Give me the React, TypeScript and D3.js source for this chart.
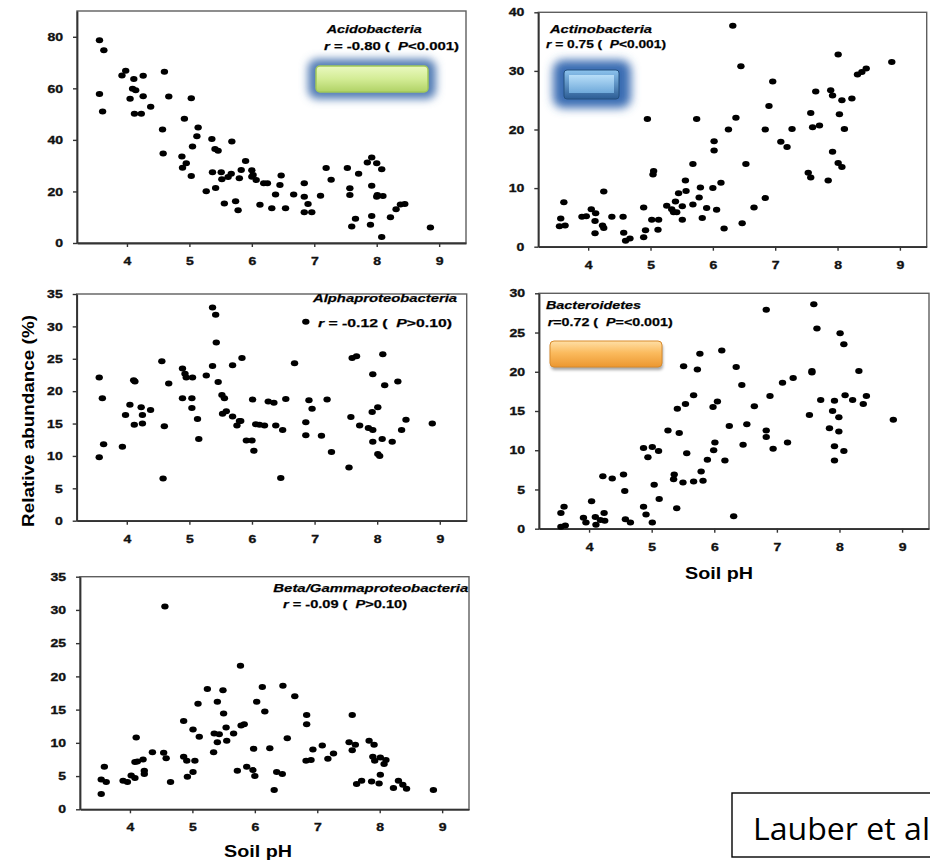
import React, { useEffect, useRef } from 'react';
import * as d3 from 'd3';

// Acidobacteria
const acidoPH = [3.56,3.63,3.56,3.61,3.92,3.98,4.11,4.26,4.09,4.14,4.05,4.26,4.12,4.23,4.38,4.60,4.67,4.57,4.58,5.03,4.92,5.14,5.12,5.05,4.88,4.95,4.89,5.03,5.27,5.36,5.41,5.46,5.37,5.51,5.52,5.42,5.56,5.68,5.67,5.62,5.80,5.83,5.90,5.74,5.78,6.00,6.02,6.07,6.00,6.19,6.25,6.13,6.32,6.47,6.45,6.38,6.54,6.67,6.84,6.84,6.90,6.84,6.96,7.10,7.19,7.27,7.53,7.57,7.57,7.71,7.66,7.60,7.85,7.92,8.00,8.08,7.92,8.01,8.00,8.10,7.92,7.90,8.08,8.22,8.31,8.38,8.45,8.86];
const acidoAbund = [78.7,74.8,57.8,51,65,66.8,63.6,64.9,59.8,59.3,56,56.9,50.1,50.1,52.9,66.4,56.8,44,34.7,56.2,48.2,44.8,41.4,37.4,33.6,30.9,29.2,26,20.1,40.3,36.5,35.8,27.4,27.4,24.7,21.3,15.3,39.4,26.9,25.6,25.1,28.3,31.8,16.2,12.7,28.2,26.4,24.4,25.7,23.2,23.2,14.8,13.5,26.2,22.5,18.8,13.5,18.8,23.2,17.9,15.1,11.9,11.9,18.3,29.1,24.5,29.1,21.2,18.6,26.9,9.4,6.4,31.2,33.2,30.9,28.6,22.2,18.6,17.9,18.2,10.5,7.1,2.3,10,13.1,14.9,15.1,6];

// Actinobacteria
const actinoPH = [3.61,3.56,3.54,3.63,3.90,3.97,4.05,4.12,4.11,4.11,4.25,4.23,4.25,4.38,4.56,4.57,4.60,4.67,4.89,4.92,4.89,4.95,5.04,5.05,5.02,5.13,5.12,5.26,5.34,5.40,5.42,5.37,5.45,5.51,5.51,5.56,5.57,5.68,5.68,5.74,5.78,5.80,5.83,5.90,6.02,6.02,6.00,6.06,6.13,6.18,6.25,6.32,6.37,6.45,6.53,6.47,6.66,6.84,6.84,6.90,6.96,7.09,7.19,7.27,7.57,7.53,7.57,7.60,7.71,7.65,7.85,7.89,7.92,7.92,8.01,8.03,8.01,8.07,8.07,8.11,8.23,8.32,8.39,8.46,8.87];
const actinoAbund = [7.6,4.8,3.5,3.6,5.1,5.2,6.4,5.7,4.4,2.3,9.4,3.6,3.2,5.1,5.1,2.4,1.0,1.4,1.6,2.8,6.7,21.8,12.3,12.9,4.6,4.6,2.9,7.0,6.4,7.7,5.9,5.9,9.1,4.6,6.9,11.3,9.5,14.1,7.2,21.8,8.4,10.1,4.9,6.6,16.4,18.0,10.0,6.3,10.9,3.1,20.0,37.7,22.0,30.8,14.1,4.0,6.7,20.0,8.3,24.0,28.2,17.9,17.0,20.1,22.8,12.6,11.8,20.4,20.7,26.5,11.3,26.7,25.8,16.2,32.8,22.6,14.3,13.6,25.0,20.1,25.3,29.4,29.8,30.4,31.5];

// Alphaproteobacteria
const alphaPH = [3.56,3.61,3.56,3.63,3.93,3.98,4.05,4.11,4.13,4.12,4.23,4.25,4.25,4.38,4.56,4.60,4.58,4.67,4.89,4.93,4.95,5.05,4.89,5.04,5.04,5.13,5.15,5.27,5.37,5.42,5.43,5.37,5.46,5.52,5.56,5.53,5.59,5.69,5.69,5.76,5.80,5.82,5.84,5.91,6.00,6.03,6.01,6.06,6.12,6.20,6.26,6.35,6.38,6.49,6.46,6.54,6.68,6.86,6.86,6.86,6.91,6.96,7.11,7.20,7.27,7.55,7.58,7.60,7.67,7.72,7.86,7.93,7.92,7.93,8.01,7.93,8.01,8.04,8.08,8.09,8.12,8.24,8.33,8.39,8.46,8.88];
const alphaAbund = [22.1,18.9,9.8,11.8,11.4,16.3,17.9,21.7,21.5,14.8,17.5,16.3,15.0,17.1,24.6,14.6,6.5,21.2,23.5,22.7,22.1,22.1,18.9,18.9,17.4,15.7,12.6,22.4,32.9,31.8,27.5,23.9,21.4,19.4,18.9,16.5,16.9,24.0,16.1,14.7,15.4,15.4,25.1,12.4,12.4,10.8,18.7,14.9,14.8,14.7,18.4,18.2,14.7,14.0,6.6,18.8,24.3,30.7,15.2,13.2,18.6,17.3,13.1,18.7,10.6,8.2,16.0,25.1,25.4,14.7,14.3,14.0,16.8,22.6,17.5,12.2,10.3,10.0,12.6,25.7,20.9,12.2,21.5,14.0,15.6,15.0];

// Bacteroidetes
const bacteroPH = [3.55,3.62,3.55,3.60,3.91,4.04,3.95,4.10,4.11,4.18,4.24,4.25,4.22,4.37,4.55,4.57,4.58,4.66,4.87,4.94,5.01,5.11,4.87,4.91,5.01,5.04,5.12,5.26,5.41,5.44,5.36,5.35,5.50,5.40,5.51,5.54,5.56,5.67,5.67,5.73,5.77,5.79,5.82,5.89,5.98,6.05,6.01,5.99,6.12,6.17,6.24,6.31,6.35,6.44,6.46,6.52,6.64,6.83,6.83,6.83,6.89,6.94,7.09,7.17,7.26,7.52,7.56,7.56,7.59,7.64,7.70,7.84,7.89,7.92,7.92,7.92,7.99,7.99,8.01,8.07,8.07,8.09,8.21,8.31,8.38,8.43,8.86];
const bacteroAbund = [0.25,0.4,2.0,2.8,1.4,3.5,0.8,1.5,0.5,1.1,2.0,1.0,6.7,6.4,6.9,4.8,1.2,0.8,10.3,9.1,10.4,9.9,2.8,1.8,0.8,5.6,3.8,12.5,15.3,12.2,6.9,6.3,5.9,2.6,20.7,15.9,9.6,17.0,6.0,20.3,22.3,7.3,6.1,8.8,15.5,16.2,11.0,10.0,22.7,8.7,13.1,1.6,20.6,18.3,10.7,13.3,15.6,27.9,12.5,11.7,16.9,10.2,18.6,11.0,19.2,14.5,20.1,19.9,28.6,25.5,16.4,12.8,15.0,16.3,10.5,8.7,14.2,12.4,24.9,23.5,9.9,17.0,16.4,20.1,15.9,16.9,13.9];

// Beta/Gammaproteobacteria
const betaPH = [4.56,3.54,3.54,3.62,3.59,3.89,3.96,4.02,4.08,4.08,4.12,4.10,4.21,4.23,4.23,4.36,4.54,4.58,4.65,4.86,4.86,4.91,5.01,5.04,4.92,5.01,5.09,5.11,5.24,5.34,5.35,5.40,5.40,5.43,5.49,5.50,5.54,5.55,5.66,5.72,5.78,5.83,5.77,5.87,5.97,6.00,5.98,6.03,6.12,6.16,6.24,6.31,6.35,6.44,6.45,6.52,6.64,6.83,6.83,6.82,6.90,6.93,7.08,7.17,7.26,7.51,7.56,7.56,7.61,7.63,7.71,7.83,7.91,7.89,7.92,7.87,7.99,8.01,8.01,8.10,8.07,8.22,8.30,8.37,8.43,8.86];
const betaAbund = [30.5,2.3,4.5,4.1,6.4,4.3,4.1,5.1,4.7,7.1,7.2,10.8,7.5,5.8,5.3,8.6,8.5,7.7,4.1,13.3,7.9,7.3,12.0,7.3,4.9,5.6,15.9,10.9,18.1,8.6,11.4,16.2,10.1,11.3,17.9,14.4,12.3,10.3,11.4,5.8,12.6,12.8,21.6,6.4,5.9,5.0,9.1,16.2,18.4,14.7,9.2,2.9,5.6,5.3,18.6,10.7,17.0,14.2,12.8,7.3,7.4,9.0,9.6,7.6,8.4,10.1,14.2,8.9,9.7,3.8,4.3,10.3,9.7,7.9,7.3,4.2,3.9,5.2,7.8,7.4,6.8,3.2,4.3,3.7,3.1,2.9];

const xTicks = [4, 5, 6, 7, 8, 9];
const acidoTicks = [0, 20, 40, 60, 80];
const actinoTicks = [0, 10, 20, 30, 40];
const fiveTicks35 = [0, 5, 10, 15, 20, 25, 30, 35];
const fiveTicks30 = [0, 5, 10, 15, 20, 25, 30];

const BOLD = 'Liberation Sans, Arial, sans-serif';

const panels = [
  { ph: acidoPH, v: acidoAbund, yMax: 90, ticks: acidoTicks, l: 77, r: 466, t: 11, b: 243,
    title: 'Acidobacteria', stat: ['-0.80', '<0.001'], eq: ' = ', tx: 326.7, ty: 33.3, tl: 95, sx: 324, sy: 49.5, sl: 135 },
  { ph: actinoPH, v: actinoAbund, yMax: 40, ticks: actinoTicks, l: 538.3, r: 926.7, t: 12.3, b: 246.7,
    title: 'Actinobacteria', stat: ['0.75', '<0.001'], eq: ' = ', tx: 550, ty: 32.5, tl: 102, sx: 546, sy: 48, sl: 120 },
  { ph: alphaPH, v: alphaAbund, yMax: 35, ticks: fiveTicks35, l: 76.7, r: 466.7, t: 294, b: 520.7,
    title: 'Alphaproteobacteria', stat: ['-0.12', '>0.10'], eq: ' = ', tx: 313, ty: 302, tl: 144, sx: 318, sy: 327, sl: 134 },
  { ph: bacteroPH, v: bacteroAbund, yMax: 30, ticks: fiveTicks30, l: 539, r: 929, t: 293.3, b: 528.7,
    title: 'Bacteroidetes', stat: ['0.72', '=<0.001'], eq: '=', tx: 546, ty: 309.3, tl: 95, sx: 547.7, sy: 325.7, sl: 125 },
  { ph: betaPH, v: betaAbund, yMax: 35, ticks: fiveTicks35, l: 80, r: 469, t: 576.7, b: 809.3,
    title: 'Beta/Gammaproteobacteria', stat: ['-0.09', '>0.10'], eq: ' = ', tx: 273.3, ty: 592.3, tl: 195, sx: 283, sy: 608, sl: 124 },
];

const App = () => {
  const chartRef = useRef<SVGSVGElement>(null);

  useEffect(() => {
    drawChart();
  }, []);

  const drawChart = () => {
    const svg = d3.select(chartRef.current);
    svg.selectAll('*').remove();

    const defs = svg.append('defs');
    const blur = (id: string, sd: number) =>
      defs.append('filter').attr('id', id).attr('x', '-60%').attr('y', '-60%').attr('width', '220%').attr('height', '220%')
        .append('feGaussianBlur').attr('stdDeviation', sd);
    blur('glow', 4.5);
    blur('glow2', 5);
    blur('shadow', 1.6);
    const grad = (id: string, stops: [number, string][]) => {
      const lg = defs.append('linearGradient').attr('id', id).attr('x1', 0).attr('y1', 0).attr('x2', 0).attr('y2', 1);
      stops.forEach(([o, c]) => lg.append('stop').attr('offset', o).attr('stop-color', c));
    };
    grad('green', [[0, '#eaf9c0'], [0.5, '#d3ec95'], [1, '#b0d266']]);
    grad('blueOut', [[0, '#8cc3ee'], [1, '#2c5d95']]);
    grad('blueIn', [[0, '#b8def8'], [1, '#6fa9da']]);
    grad('orange', [[0, '#ffdfa6'], [0.45, '#fbbb5e'], [1, '#ec9730']]);

    panels.forEach((p) => {
      const x = d3.scaleLinear().domain([3.2, 9.43]).range([p.l, p.r]);
      const y = d3.scaleLinear().domain([0, p.yMax]).range([p.b, p.t]);
      const g = svg.append('g');

      // cadre
      g.append('rect')
        .attr('x', p.l).attr('y', p.t).attr('width', p.r - p.l).attr('height', p.b - p.t)
        .attr('fill', 'none').attr('stroke', '#5e5e5e').attr('stroke-width', 1.4);

      const styleAxis = (ax: any) => {
        ax.attr('font-family', BOLD).attr('font-size', 11.5).attr('font-weight', 'bold').attr('color', '#111');
        ax.select('.domain').attr('stroke', '#333').attr('stroke-width', 1.8);
        ax.selectAll('.tick line').attr('stroke', '#333').attr('stroke-width', 1.4);
        ax.selectAll('text')
          .attr('stroke', '#111').attr('stroke-width', 0.35)
          .attr('textLength', (d: number) => String(d).length * 7.8)
          .attr('lengthAdjust', 'spacingAndGlyphs');
      };

      const xa = g.append('g').attr('transform', `translate(0,${p.b})`)
        .call(d3.axisBottom(x).tickValues(xTicks).tickFormat(d3.format('d')).tickSize(4).tickSizeOuter(0).tickPadding(10));
      styleAxis(xa);

      const ya = g.append('g').attr('transform', `translate(${p.l},0)`)
        .call(d3.axisLeft(y).tickValues(p.ticks).tickFormat(d3.format('d')).tickSize(4).tickSizeOuter(0).tickPadding(10));
      styleAxis(ya);

      // points
      const n = Math.min(p.ph.length, p.v.length);
      g.selectAll('ellipse.pt').data(d3.range(n)).join('ellipse')
        .attr('class', 'pt')
        .attr('cx', (i) => x(p.ph[i]))
        .attr('cy', (i) => y(p.v[i]))
        .attr('rx', 3.7).attr('ry', 3.0)
        .attr('fill', '#000');

      // annotations
      g.append('text')
        .attr('x', p.tx).attr('y', p.ty)
        .attr('font-family', BOLD).attr('font-size', 11.5).attr('font-weight', 'bold').attr('font-style', 'italic')
        .attr('stroke', '#111').attr('stroke-width', 0.25)
        .attr('textLength', p.tl).attr('lengthAdjust', 'spacingAndGlyphs')
        .text(p.title);
      const st = g.append('text')
        .attr('x', p.sx).attr('y', p.sy)
        .attr('font-family', BOLD).attr('font-size', 11.5).attr('font-weight', 'bold')
        .attr('stroke', '#111').attr('stroke-width', 0.25)
        .attr('textLength', p.sl).attr('lengthAdjust', 'spacingAndGlyphs')
        .style('white-space', 'pre');
      st.append('tspan').attr('font-style', 'italic').text('r');
      st.append('tspan').text(`${p.eq}${p.stat[0]} (  `);
      st.append('tspan').attr('font-style', 'italic').text('P');
      st.append('tspan').text(`${p.stat[1]})`);
    });

    // bouton vert (Acidobacteria)
    svg.append('rect').attr('x', 308).attr('y', 59).attr('width', 128).attr('height', 40).attr('rx', 9)
      .attr('fill', '#527db5').attr('filter', 'url(#glow)');
    svg.append('rect').attr('x', 316).attr('y', 66).attr('width', 112).attr('height', 26).attr('rx', 4)
      .attr('fill', 'url(#green)').attr('stroke', '#a3c958').attr('stroke-width', 1.5);

    // bouton bleu (Actinobacteria)
    svg.append('rect').attr('x', 553).attr('y', 60).attr('width', 78).attr('height', 48).attr('rx', 10)
      .attr('fill', '#3b6db3').attr('filter', 'url(#glow2)');
    svg.append('rect').attr('x', 564).attr('y', 70).attr('width', 55).attr('height', 29).attr('rx', 3)
      .attr('fill', 'url(#blueOut)').attr('stroke', '#24507f').attr('stroke-width', 1);
    svg.append('rect').attr('x', 569).attr('y', 75).attr('width', 45).attr('height', 18)
      .attr('fill', 'url(#blueIn)');

    // bouton orange (Bacteroidetes)
    svg.append('rect').attr('x', 551).attr('y', 344).attr('width', 112).attr('height', 26).attr('rx', 4)
      .attr('fill', '#000').attr('opacity', 0.35).attr('filter', 'url(#shadow)');
    svg.append('rect').attr('x', 550).attr('y', 341).attr('width', 112).attr('height', 26).attr('rx', 4)
      .attr('fill', 'url(#orange)').attr('stroke', '#d98b2c').attr('stroke-width', 1);

    // titres des axes
    svg.append('text')
      .attr('transform', 'translate(34,421) rotate(-90)')
      .attr('text-anchor', 'middle')
      .attr('font-family', BOLD).attr('font-size', 16).attr('font-weight', 'bold')
      .attr('textLength', 212).attr('lengthAdjust', 'spacingAndGlyphs')
      .text('Relative abundance (%)');
    svg.append('text').attr('x', 685).attr('y', 579)
      .attr('font-family', BOLD).attr('font-size', 17).attr('font-weight', 'bold')
      .attr('textLength', 68).attr('lengthAdjust', 'spacingAndGlyphs')
      .text('Soil pH');
    svg.append('text').attr('x', 224).attr('y', 857)
      .attr('font-family', BOLD).attr('font-size', 17).attr('font-weight', 'bold')
      .attr('textLength', 68).attr('lengthAdjust', 'spacingAndGlyphs')
      .text('Soil pH');

    // référence
    svg.append('rect').attr('x', 732).attr('y', 793).attr('width', 220).attr('height', 64)
      .attr('fill', '#fff').attr('stroke', '#000').attr('stroke-width', 1.4);
    svg.append('text').attr('x', 753).attr('y', 840)
      .attr('font-family', 'Open Sans, Noto Sans, sans-serif').attr('font-size', 31)
      .attr('textLength', 177).attr('lengthAdjust', 'spacingAndGlyphs')
      .text('Lauber et al');
  };

  return (
    <svg ref={chartRef} width={930} height={860}
      style={{ position: 'absolute', left: 0, top: 0, display: 'block', background: '#fff' }}>
      {/* Contenu dessiné par D3 */}
    </svg>
  );
};

export default App;
